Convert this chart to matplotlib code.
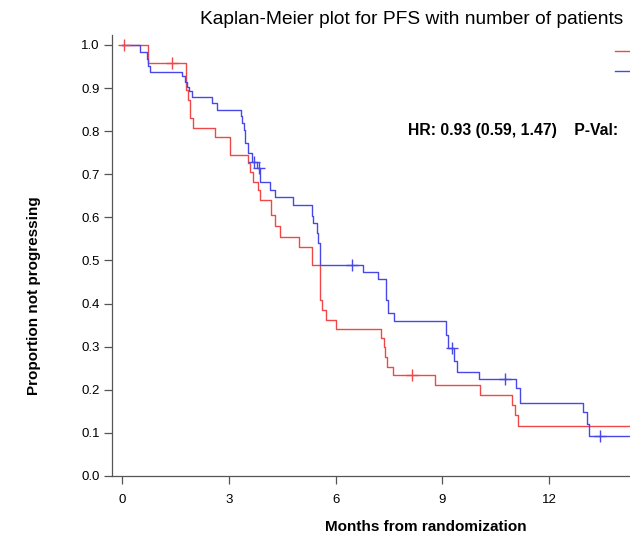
import numpy as np
import matplotlib
matplotlib.use("Agg")
import matplotlib.pyplot as plt
from matplotlib.lines import Line2D

plt.rcParams['font.family'] = ['Liberation Sans', 'DejaVu Sans']

# ---- data ----
red_t = [0, 0.74, 1.80, 1.85, 1.90, 2.00, 2.61, 3.03, 3.55, 3.60, 3.69, 3.83, 3.88, 4.20, 4.30, 4.44,
         4.97, 5.33, 5.56, 5.61, 5.72, 6.01, 7.29, 7.35, 7.39, 7.45, 7.62, 8.79, 10.06, 10.95, 11.04, 11.13]
red_s = [1.0, 0.957, 0.896, 0.873, 0.830, 0.807, 0.787, 0.745, 0.726, 0.706, 0.683, 0.664, 0.640, 0.606, 0.580, 0.555,
         0.532, 0.490, 0.408, 0.385, 0.362, 0.340, 0.319, 0.300, 0.277, 0.254, 0.234, 0.211, 0.188, 0.165, 0.142, 0.116]
red_end = 15.8
red_cens_t = [0.05, 1.41, 8.14]
red_cens_s = [1.0, 0.957, 0.234]

blue_t = [0, 0.51, 0.69, 0.74, 0.79, 1.68, 1.77, 1.82, 1.87, 1.96, 2.52, 2.66, 3.34, 3.38, 3.42,
          3.46, 3.55, 3.66, 3.80, 3.88, 4.16, 4.30, 4.81, 5.33, 5.38, 5.47, 5.52, 5.56, 6.76, 7.18,
          7.42, 7.47, 7.64, 9.10, 9.15, 9.33, 9.42, 10.03, 11.07, 11.19, 12.96, 13.06, 13.12]
blue_s = [1.0, 0.984, 0.967, 0.951, 0.938, 0.927, 0.915, 0.903, 0.892, 0.880, 0.865, 0.849, 0.834, 0.818, 0.803,
          0.772, 0.749, 0.729, 0.714, 0.683, 0.664, 0.648, 0.629, 0.602, 0.586, 0.563, 0.540, 0.490, 0.474, 0.457,
          0.408, 0.377, 0.360, 0.327, 0.296, 0.267, 0.242, 0.224, 0.203, 0.170, 0.149, 0.120, 0.093]
blue_end = 15.8
blue_cens_t = [3.71, 3.85, 6.45, 9.26, 10.75, 13.43]
blue_cens_s = [0.729, 0.714, 0.490, 0.296, 0.224, 0.093]

x_ticks = [0, 3, 6, 9, 12]
y_ticks = [0.0, 0.1, 0.2, 0.3, 0.4, 0.5, 0.6, 0.7, 0.8, 0.9, 1.0]
group_labels = ['', '']  # legend labels lie outside the visible area

title = 'Kaplan-Meier plot for PFS with number of patients'
hr_text = 'HR: 0.93 (0.59, 1.47)    P-Val:'

RED = '#f04848'
BLUE = '#4848e8'

W, H = 630, 537
fig = plt.figure(figsize=(W / 100, H / 100), dpi=100)

xmin, xmax = -0.28, 15.5
ymin, ymax = 0.0, 1.023
px_per_month = 35.6
ax_left = 112
ax_bottom = 476
ax_top = 35
ax_w = (xmax - xmin) * px_per_month
ax = fig.add_axes([ax_left / W, 1 - ax_bottom / H, ax_w / W, (ax_bottom - ax_top) / H])

ax.step(np.append(red_t, red_end), np.append(red_s, red_s[-1]), where='post', color=RED, lw=1.0)
ax.step(np.append(blue_t, blue_end), np.append(blue_s, blue_s[-1]), where='post', color=BLUE, lw=1.0)
ax.plot(red_cens_t, red_cens_s, ls='none', marker='+', ms=8, mew=1.0, color=RED)
ax.plot(blue_cens_t, blue_cens_s, ls='none', marker='+', ms=8, mew=1.0, color=BLUE)

ax.set_xlim(xmin, xmax)
ax.set_ylim(ymin, ymax)
ax.set_xticks(x_ticks)
ax.set_yticks(y_ticks)
ax.set_yticklabels([f'{v:.1f}' for v in y_ticks])
ax.tick_params(axis='both', direction='out', length=6, width=0.9, color='#555555', labelsize=9.5)
ax.tick_params(axis='x', pad=7)
ax.tick_params(axis='y', pad=3)
for s in ['top', 'right']:
    ax.spines[s].set_visible(False)
for s in ['left', 'bottom']:
    ax.spines[s].set_color('#555555')
    ax.spines[s].set_linewidth(0.9)

fig.text(426 / W, 1 - 527 / H, 'Months from randomization', ha='center', va='center',
         fontsize=11, fontweight='bold')
fig.text(34 / W, 1 - 296 / H, 'Proportion not progressing', ha='center', va='center',
         rotation=90, fontsize=11, fontweight='bold')
fig.text(200 / W, 1 - 20 / H, title, ha='left', va='center', fontsize=13.8)
fig.text(408 / W, 1 - 130 / H, hr_text, ha='left', va='center', fontsize=11.3, fontweight='bold')

handles = [Line2D([], [], color=RED, lw=1.0), Line2D([], [], color=BLUE, lw=1.0)]
fig.legend(handles, group_labels, loc='upper left', bbox_to_anchor=(615 / W, 1 - 45 / H),
           frameon=False, borderpad=0, borderaxespad=0, handlelength=2.5, fontsize=10,
           labelspacing=0.45, handletextpad=0.6)

fig.savefig('out.png', dpi=100)
